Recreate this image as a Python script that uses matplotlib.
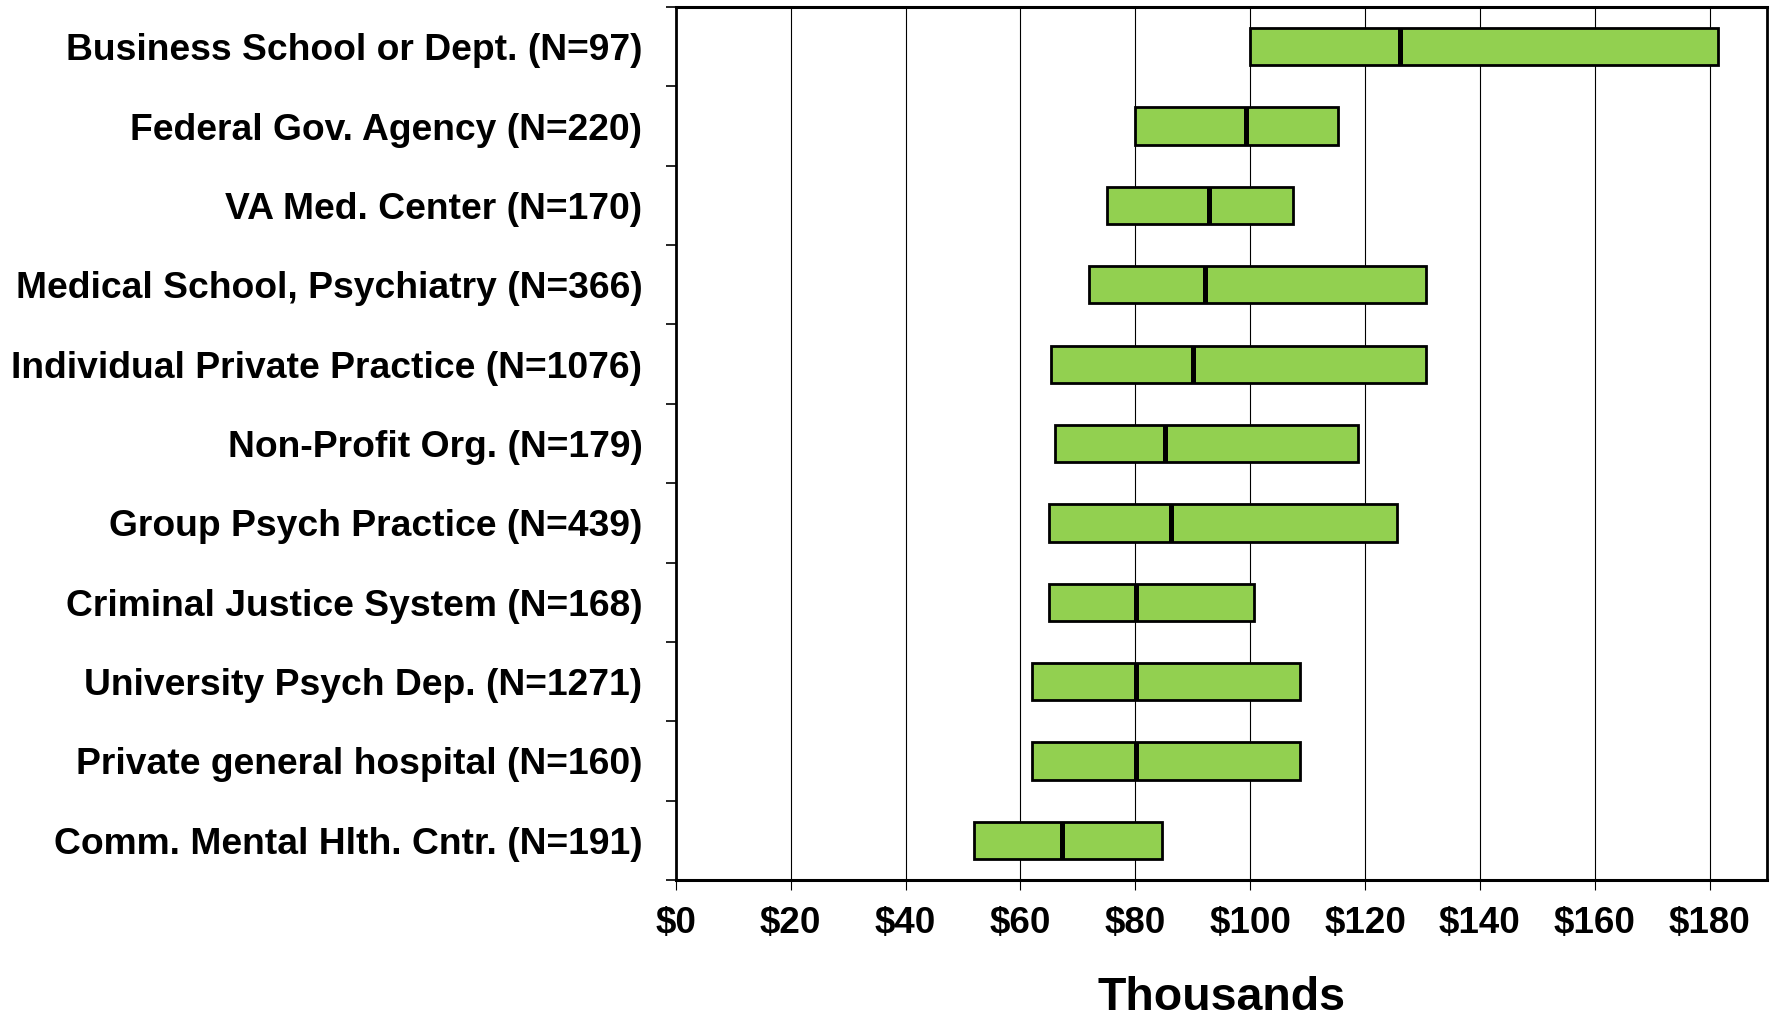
import matplotlib
matplotlib.use("Agg")
import matplotlib.pyplot as plt
import numpy as np

plt.rcParams['font.family'] = ['Liberation Sans', 'DejaVu Sans']

categories = [
    "Business School or Dept. (N=97)",
    "Federal Gov. Agency (N=220)",
    "VA Med. Center (N=170)",
    "Medical School, Psychiatry (N=366)",
    "Individual Private Practice (N=1076)",
    "Non-Profit Org. (N=179)",
    "Group Psych Practice (N=439)",
    "Criminal Justice System (N=168)",
    "University Psych Dep. (N=1271)",
    "Private general hospital (N=160)",
    "Comm. Mental Hlth. Cntr. (N=191)",
]
q25 = [100, 80, 75, 72, 65.3, 66, 65, 65, 62, 62, 52]
median = [126, 99.2, 92.9, 92.2, 90.1, 85.2, 86.3, 80.2, 80.2, 80.2, 67.3]
q75 = [181.5, 115.3, 107.5, 130.6, 130.6, 118.7, 125.6, 100.6, 108.6, 108.6, 84.6]
xticks = [0, 20, 40, 60, 80, 100, 120, 140, 160, 180]
xticklabels = ["$" + str(v) for v in xticks]

fig = plt.figure(figsize=(17.76, 10.17), dpi=100)
ax = fig.add_axes([0.3805, 0.1347, 0.995 - 0.3805, 0.9931 - 0.1347])

n = len(categories)
ypos = np.arange(n)
h = 0.47
widths = [b - a for a, b in zip(q25, q75)]
ax.barh(ypos, widths, left=q25, height=h, color='#92D050', edgecolor='black',
        linewidth=2.0, zorder=3)
for y, m in zip(ypos, median):
    ax.plot([m, m], [y - h / 2, y + h / 2], color='black', linewidth=3.6,
            solid_capstyle='butt', zorder=4)

ax.set_xlim(0, 190)
ax.set_ylim(n - 0.5, -0.5)

ax.set_xticks(xticks)
ax.set_xticklabels(xticklabels, fontsize=26.5, fontweight='bold')
ax.set_yticks(ypos)
ax.set_yticklabels(categories, fontsize=26.8, fontweight='bold')
ax.set_yticks(np.arange(-0.5, n, 1.0), minor=True)
ax.tick_params(axis='y', which='major', length=0, pad=24)
ax.tick_params(axis='y', which='minor', length=7, width=1.2, direction='out')
ax.tick_params(axis='x', which='major', length=7, width=0.8, direction='out', pad=12)

for x in xticks[1:]:
    ax.axvline(x, color='black', linewidth=0.8, zorder=1)

for s in ['top', 'bottom']:
    ax.spines[s].set_linewidth(2.2)
for s in ['left', 'right']:
    ax.spines[s].set_linewidth(2.0)

ax.set_xlabel("Thousands", fontsize=33.5, fontweight='bold', labelpad=25)

fig.savefig("out.png", dpi=100)
